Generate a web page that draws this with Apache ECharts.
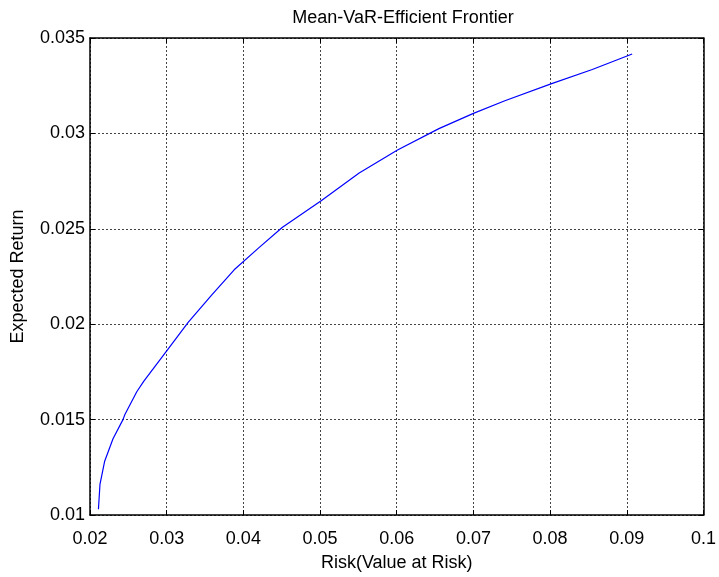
<!DOCTYPE html>
<html>
<head>
<meta charset="utf-8">
<style>
  html, body { margin: 0; padding: 0; background: #fff; }
  #chart { width: 719px; height: 577px; }
</style>
<script src="https://cdn.jsdelivr.net/npm/echarts@6/dist/echarts.min.js"></script>
</head>
<body>
<div id="chart"></div>
<script>
// risk (VaR) and expected return along the frontier
const riskValues = [0.0211, 0.0213, 0.0219, 0.0230, 0.0243, 0.02455, 0.0261, 0.0270, 0.0302, 0.0328,
  0.0358, 0.0388, 0.0420, 0.0451, 0.0501, 0.0551, 0.0601, 0.0655, 0.0700, 0.0741, 0.0802, 0.0855, 0.0907]
const returnValues = [0.0103, 0.0116, 0.0128, 0.0140, 0.0150, 0.01527, 0.01646, 0.0170, 0.01871, 0.0201,
  0.02150, 0.02285, 0.0240, 0.02508, 0.02646, 0.02792, 0.02913, 0.03025, 0.03105, 0.03171, 0.03261, 0.03335, 0.03416]

const xTicks = { min: 0.02, max: 0.1, interval: 0.01 }
const yTicks = { min: 0.01, max: 0.035, interval: 0.005 }

const font = 'Liberation Sans, Arial, sans-serif'
const fmt = v => String(+v.toFixed(4))

const chart = echarts.init(document.getElementById('chart'))

const frameAxis = {
  axisLine: { show: true, lineStyle: { color: '#000', width: 1.5 } },
  axisTick: { show: true, inside: true, length: 5, lineStyle: { color: '#000' } },
}

chart.setOption({
  animation: false,
  backgroundColor: '#fff',
  title: {
    text: 'Mean-VaR-Efficient Frontier',
    left: 398,
    textAlign: 'center',
    top: 4,
    textStyle: { fontFamily: font, fontSize: 18, fontWeight: 'normal', color: '#000' },
  },
  grid: { left: 90, top: 38, width: 616, height: 484, containLabel: false },
  xAxis: [
    {
      type: 'value', ...xTicks, position: 'bottom',
      ...frameAxis,
      axisLabel: { formatter: fmt, fontFamily: font, fontSize: 18, color: '#000', margin: 15 },
      splitLine: { show: true, lineStyle: { color: '#444', type: [2, 2], width: 1 } },
      name: 'Risk(Value at Risk)', nameLocation: 'middle', nameGap: 39,
      nameTextStyle: { fontFamily: font, fontSize: 18, color: '#000' },
    },
    {
      type: 'value', ...xTicks, position: 'top',
      ...frameAxis, axisLabel: { show: false }, splitLine: { show: false },
    },
  ],
  yAxis: [
    {
      type: 'value', ...yTicks, position: 'left',
      ...frameAxis,
      axisLabel: { formatter: fmt, fontFamily: font, fontSize: 18, color: '#000', margin: 5 },
      splitLine: { show: true, lineStyle: { color: '#444', type: [2, 2], width: 1 } },
      name: 'Expected Return', nameLocation: 'middle', nameGap: 63, nameRotate: 90,
      nameTextStyle: { fontFamily: font, fontSize: 18, color: '#000' },
    },
    {
      type: 'value', ...yTicks, position: 'right',
      ...frameAxis, axisLabel: { show: false }, splitLine: { show: false },
    },
  ],
  series: [
    {
      type: 'line',
      data: riskValues.map((x, i) => [x, returnValues[i]]),
      showSymbol: false,
      lineStyle: { color: '#0000ff', width: 1.2 },
      xAxisIndex: 0,
      yAxisIndex: 0,
    },
  ],
})
</script>
</body>
</html>
